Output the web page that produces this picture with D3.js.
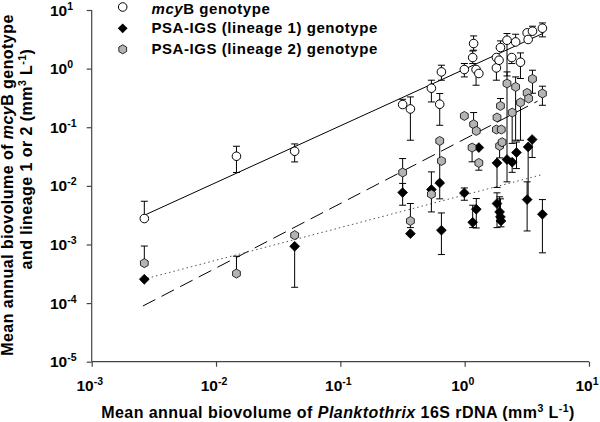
<!DOCTYPE html>
<html><head><meta charset="utf-8">
<script src="https://cdn.jsdelivr.net/npm/d3@7"></script>
<style>
body{margin:0;background:#fff}
svg{display:block;font-family:"Liberation Sans",Arial,sans-serif;font-weight:bold}
</style>
</head><body>
<svg id="c" width="600" height="422"></svg>
<script>
// ---- tick data ----
const xTicks=[1e-3,1e-2,1e-1,1,10];
const xTickExp=["-3","-2","-1","0","1"];
const yTicks=[1e-5,1e-4,1e-3,1e-2,1e-1,1,10];
const yTickExp=["-5","-4","-3","-2","-1","0","1"];

// ---- mcyB genotype (open circles) ----
const mcyX=[0.00265,0.0146,0.0429,0.317,0.366,0.540,0.630,0.650,0.994,1.16,1.18,1.235,1.30,1.80,1.80,1.89,1.94,2.19,2.39,2.57,2.81,3.18,3.24,3.51,4.22];
const mcyY=[0.00277,0.032,0.0389,0.244,0.205,0.463,0.247,0.879,0.965,1.546,2.68,0.965,0.825,1.028,1.546,1.39,2.29,3.05,1.546,2.85,1.286,4.07,3.14,4.35,4.89];
const mcyLo=[null,0.0169,0.0256,null,0.060,0.270,0.108,0.634,0.722,1.22,2.06,0.521,null,0.634,null,null,null,0.75,1.22,null,0.678,null,null,null,3.48];
const mcyHi=[0.00546,0.0474,0.0519,0.30,0.329,0.634,0.376,1.143,1.222,2.0,3.61,null,null,null,null,null,2.97,3.97,null,3.86,1.853,null,null,5.29,6.02];

// ---- PSA-IGS lineage 1 (black diamonds) ----
const lin1X=[0.00265,0.0429,0.317,0.366,0.540,0.630,0.650,0.994,1.16,1.24,1.30,1.82,1.82,1.91,1.94,1.96,2.19,2.41,2.61,3.24,3.49,3.18,4.22];
const lin1Y=[0.000255,0.00093,0.00769,0.00153,0.00865,0.0112,0.00175,0.00757,0.00239,0.00399,0.0450,0.0246,0.00499,0.00359,0.00295,0.00252,0.0281,0.0253,0.0370,0.0461,0.0617,0.00583,0.00328];
const lin1Lo=[null,0.000186,0.00467,null,null,0.006,0.000673,0.00568,0.00194,0.00191,null,0.0094,0.00194,0.0025,null,0.002,null,0.017,0.0197,0.0058,0.0305,0.0017,0.00072];
const lin1Hi=[null,null,0.011,null,null,null,0.00345,0.0092,0.00467,0.00607,null,null,0.0076,0.0065,0.006,null,null,null,0.056,null,null,0.0117,0.00583];

// ---- PSA-IGS lineage 2 (grey hexagons) ----
const lin2X=[0.00265,0.0146,0.0429,0.317,0.366,0.540,0.630,0.650,0.994,1.147,1.18,1.24,1.30,1.80,1.82,1.91,1.94,1.97,2.0,2.19,2.41,2.57,2.81,3.18,3.27,3.51,4.22];
const lin2Y=[0.00048,0.000319,0.00144,0.0169,0.00252,0.00719,0.0584,0.0266,0.156,0.045,0.1125,0.0865,0.0246,0.0914,0.1465,0.048,0.231,0.0914,0.0555,0.557,0.178,0.487,0.264,0.385,0.309,0.667,0.376];
const lin2Lo=[null,null,null,0.0077,0.00194,0.00359,0.012,null,null,0.0257,null,null,0.0185,null,null,0.03,null,null,null,0.0117,0.053,0.06,0.06,null,null,0.38,0.237];
const lin2Hi=[0.00094,0.00063,null,0.0292,0.005,0.0173,null,null,null,null,0.178,null,null,null,null,null,0.309,null,null,0.879,null,0.722,null,null,null,0.939,0.501];

// ---- regression lines (end points) ----
const fitMcyX=[0.00265,4.3], fitMcyY=[0.00315,4.02];
const fitLin2X=[0.00258,3.85], fitLin2Y=[0.0000891,0.278];
const fitLin1X=[0.0028,4.22], fitLin1Y=[0.000265,0.0156];

const legendLabels=[["mcy","B genotype"],["","PSA-IGS (lineage 1) genotype"],["","PSA-IGS (lineage 2) genotype"]];
const xTitle=["Mean annual biovolume of ","Planktothrix"," 16S rDNA (mm","3"," L","-1",")"];

// ---- drawing ----
const svg=d3.select("#c");
const x=d3.scaleLog().domain([1e-3,10]).range([91.7,589]);
const y=d3.scaleLog().domain([1e-5,10]).range([361.7,10]);
const axisCol="#444";

// axes
const gx=svg.append("g").attr("transform","translate(0,361.7)")
  .call(d3.axisBottom(x).tickValues(xTicks).tickSize(5).tickFormat(""));
const gy=svg.append("g").attr("transform","translate(91.7,0)")
  .call(d3.axisLeft(y).tickValues(yTicks).tickSize(5).tickFormat(""));
[gx,gy].forEach(g=>{g.select(".domain").attr("stroke",axisCol).attr("stroke-width",1.2);
  g.selectAll(".tick line").attr("stroke",axisCol).attr("stroke-width",1.2);});
gx.select(".domain").attr("d","M91.7,0H589");
gy.select(".domain").attr("d","M0,10V361.7");

// x tick labels
xTicks.forEach((v,i)=>{
  const t=svg.append("text").attr("x",x(v)-2).attr("y",390.5).attr("text-anchor","middle").attr("font-size",15.5);
  t.append("tspan").text("10");
  t.append("tspan").attr("font-size",10.5).attr("dy",-6).text(xTickExp[i]);
});
// y tick labels
yTicks.forEach((v,i)=>{
  const t=svg.append("text").attr("x",50).attr("y",y(v)+5.5).attr("font-size",15.5);
  t.append("tspan").text("10");
  t.append("tspan").attr("font-size",10.5).attr("dy",-6).text(yTickExp[i]);
});

// axis titles
const xt=svg.append("text").attr("x",338).attr("y",418).attr("text-anchor","middle").attr("font-size",16).attr("letter-spacing",0.45);
xt.append("tspan").text(xTitle[0]);
xt.append("tspan").attr("font-style","italic").text(xTitle[1]);
xt.append("tspan").text(xTitle[2]);
xt.append("tspan").attr("font-size",10.5).attr("dy",-6).text(xTitle[3]);
xt.append("tspan").attr("dy",6).text(xTitle[4]);
xt.append("tspan").attr("font-size",10.5).attr("dy",-6).text(xTitle[5]);
xt.append("tspan").attr("dy",6).text(xTitle[6]);

const yt1=svg.append("text").attr("transform","translate(13,185) rotate(-90)").attr("text-anchor","middle").attr("font-size",16).attr("letter-spacing",0.45);
yt1.append("tspan").text("Mean annual biovolume of ");
yt1.append("tspan").attr("font-style","italic").text("mcy");
yt1.append("tspan").text("B genotype");
const yt2=svg.append("text").attr("transform","translate(32,159) rotate(-90)").attr("text-anchor","middle").attr("font-size",16).attr("letter-spacing",0.45);
yt2.append("tspan").text("and lineage 1 or 2 (mm");
yt2.append("tspan").attr("font-size",10.5).attr("dy",-6).text("3");
yt2.append("tspan").attr("dy",6).text(" L");
yt2.append("tspan").attr("font-size",10.5).attr("dy",-6).text("-1");
yt2.append("tspan").attr("dy",6).text(")");

// fit lines
const line=d3.line().x(d=>x(d[0])).y(d=>y(d[1]));
svg.append("path").attr("d",line(d3.zip(fitMcyX,fitMcyY))).attr("stroke","#000").attr("stroke-width",1).attr("fill","none");
svg.append("path").attr("d",line(d3.zip(fitLin2X,fitLin2Y))).attr("stroke","#000").attr("stroke-width",1).attr("stroke-dasharray","14,7").attr("fill","none");
svg.append("path").attr("d",line(d3.zip(fitLin1X,fitLin1Y))).attr("stroke","#555").attr("stroke-width",1).attr("stroke-dasharray","1.5,3").attr("fill","none");

// error bars
function errBars(X,Y,Lo,Hi){
  const g=svg.append("g").attr("stroke","#000").attr("stroke-width",1).attr("fill","none");
  X.forEach((xv,i)=>{
    const cx=x(xv), cy=y(Y[i]);
    if(Hi[i]!=null){const yh=y(Hi[i]);
      g.append("line").attr("x1",cx).attr("x2",cx).attr("y1",cy).attr("y2",yh);
      g.append("line").attr("x1",cx-3.5).attr("x2",cx+3.5).attr("y1",yh).attr("y2",yh);}
    if(Lo[i]!=null){const yl=y(Lo[i]);
      g.append("line").attr("x1",cx).attr("x2",cx).attr("y1",cy).attr("y2",yl);
      g.append("line").attr("x1",cx-3.5).attr("x2",cx+3.5).attr("y1",yl).attr("y2",yl);}
  });
}
errBars(mcyX,mcyY,mcyLo,mcyHi);
errBars(lin1X,lin1Y,lin1Lo,lin1Hi);
errBars(lin2X,lin2Y,lin2Lo,lin2Hi);

const diamond=s=>`M0,${-s}L${s},0L0,${s}L${-s},0Z`;
const hexagon=r=>{const p=d3.range(6).map(k=>{const a=(-90+60*k)*Math.PI/180;return [r*Math.cos(a),r*Math.sin(a)];});return "M"+p.join("L")+"Z";};

// markers
svg.append("g").selectAll("circle").data(d3.zip(mcyX,mcyY)).join("circle")
  .attr("cx",d=>x(d[0])).attr("cy",d=>y(d[1])).attr("r",4.3)
  .attr("fill","#fff").attr("stroke","#000").attr("stroke-width",1);
svg.append("g").selectAll("path").data(d3.zip(lin1X,lin1Y)).join("path")
  .attr("d",diamond(4.9)).attr("transform",d=>`translate(${x(d[0])},${y(d[1])})`)
  .attr("fill","#000").attr("stroke","#000").attr("stroke-width",0.8);
svg.append("g").selectAll("path").data(d3.zip(lin2X,lin2Y)).join("path")
  .attr("d",hexagon(4.5)).attr("transform",d=>`translate(${x(d[0])},${y(d[1])})`)
  .attr("fill","#b4b4b4").attr("stroke","#000").attr("stroke-width",0.8);

// legend
const lg=svg.append("g");
lg.append("circle").attr("cx",122.7).attr("cy",7).attr("r",4.3).attr("fill","#fff").attr("stroke","#000");
lg.append("path").attr("d",diamond(4.9)).attr("transform","translate(122.7,28.3)").attr("fill","#000");
lg.append("path").attr("d",hexagon(4.5)).attr("transform","translate(122.7,49.3)").attr("fill","#b4b4b4").attr("stroke","#000").attr("stroke-width",0.8);
[13.5,33.3,54.3].forEach((by,i)=>{
  const t=lg.append("text").attr("x",151.5).attr("y",by).attr("font-size",15).attr("letter-spacing",0.55);
  if(legendLabels[i][0]) t.append("tspan").attr("font-style","italic").text(legendLabels[i][0]);
  t.append("tspan").text(legendLabels[i][1]);
});
</script>
</body></html>
